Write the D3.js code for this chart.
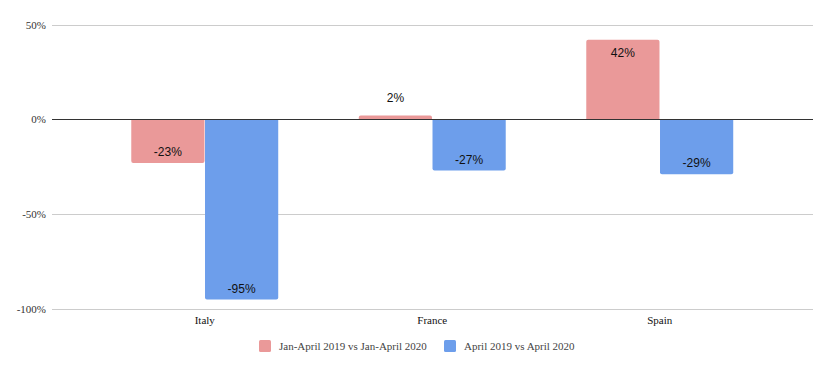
<!DOCTYPE html>
<html>
<head>
<meta charset="utf-8">
<script src="https://cdn.jsdelivr.net/npm/d3@7"></script>
<style>
  html, body { margin: 0; padding: 0; background: #fff; }
  svg { display: block; }
</style>
</head>
<body>
<svg id="chart" width="832" height="371"></svg>
<script>
const categories = ["Italy", "France", "Spain"];
const seriesNames = ["Jan-April 2019 vs Jan-April 2020", "April 2019 vs April 2020"];
const janAprilValues = [-23, 2, 42];
const aprilValues = [-95, -27, -29];
const yTicks = [50, 0, -50, -100];
const colors = ["#ea9999", "#6d9eeb"];

const svg = d3.select("#chart");
const serif = "'Liberation Serif', 'DejaVu Serif', serif";
const sans = "'Liberation Sans', Arial, sans-serif";

const plotLeft = 52, plotRight = 813;
const y = d3.scaleLinear().domain([-100, 50]).range([309, 24.5]);

const x0 = d3.scaleBand().domain(categories).range([91, 773.5])
  .paddingInner(0.354).paddingOuter(0.177);
const x1 = d3.scaleBand().domain(seriesNames).range([0, x0.bandwidth()]).paddingInner(0.007);

const yAxis = d3.axisLeft(y).tickValues(yTicks).tickSize(0).tickPadding(6)
  .tickFormat(d => d + "%");
const gAxis = svg.append("g").attr("transform", `translate(${plotLeft},0)`).call(yAxis);
gAxis.select(".domain").remove();
gAxis.selectAll("text").attr("font-family", serif).attr("font-size", 11).attr("fill", "#333");

svg.append("g").selectAll("line").data(yTicks.filter(d => d !== 0)).join("line")
  .attr("x1", plotLeft).attr("x2", plotRight)
  .attr("y1", d => Math.round(y(d)) + 0.5).attr("y2", d => Math.round(y(d)) + 0.5)
  .attr("stroke", "#cccccc").attr("stroke-width", 1);

const data = categories.map((c, i) => ({ cat: c, vals: [janAprilValues[i], aprilValues[i]] }));

function barPath(x, w, v) {
  const y0 = y(0), y1 = y(v), r = Math.min(2, Math.abs(y1 - y0) / 2);
  if (v >= 0) {
    return `M${x},${y0} V${y1 + r} Q${x},${y1} ${x + r},${y1} H${x + w - r} Q${x + w},${y1} ${x + w},${y1 + r} V${y0} Z`;
  } else {
    return `M${x},${y0} V${y1 - r} Q${x},${y1} ${x + r},${y1} H${x + w - r} Q${x + w},${y1} ${x + w},${y1 - r} V${y0} Z`;
  }
}

const groups = svg.append("g").selectAll("g").data(data).join("g")
  .attr("transform", d => `translate(${x0(d.cat)},0)`);

groups.selectAll("path").data(d => d.vals.map((v, i) => ({ v, s: seriesNames[i], i }))).join("path")
  .attr("d", d => barPath(x1(d.s), x1.bandwidth(), d.v))
  .attr("fill", d => colors[d.i]);

groups.selectAll("text").data(d => d.vals.map((v, i) => ({ v, s: seriesNames[i], i }))).join("text")
  .attr("x", d => x1(d.s) + x1.bandwidth() / 2)
  .attr("y", d => {
    const h = Math.abs(y(d.v) - y(0));
    if (h < 20) return y(d.v) - 14;
    return d.v >= 0 ? y(d.v) + 17 : y(d.v) - 7;
  })
  .attr("text-anchor", "middle")
  .attr("font-family", sans).attr("font-size", 12).attr("fill", "#111")
  .text(d => d.v + "%");

svg.append("line").attr("x1", plotLeft).attr("x2", plotRight)
  .attr("y1", Math.round(y(0)) + 0.5).attr("y2", Math.round(y(0)) + 0.5)
  .attr("stroke", "#333").attr("stroke-width", 1);

const xAxis = d3.axisBottom(x0).tickSize(0).tickPadding(0);
const gx = svg.append("g").attr("transform", "translate(0,316)").call(xAxis);
gx.select(".domain").remove();
gx.selectAll("text").attr("font-family", serif).attr("font-size", 11).attr("fill", "#111");

const legendX = [259, 444];
const leg = svg.append("g").selectAll("g").data(seriesNames).join("g")
  .attr("transform", (d, i) => `translate(${legendX[i]},340)`);
leg.append("rect").attr("width", 12).attr("height", 12).attr("rx", 1.5)
  .attr("fill", (d, i) => colors[i]);
leg.append("text").attr("x", 20).attr("y", 10)
  .attr("font-family", serif).attr("font-size", 11).attr("fill", "#444")
  .text(d => d);
</script>
</body>
</html>
